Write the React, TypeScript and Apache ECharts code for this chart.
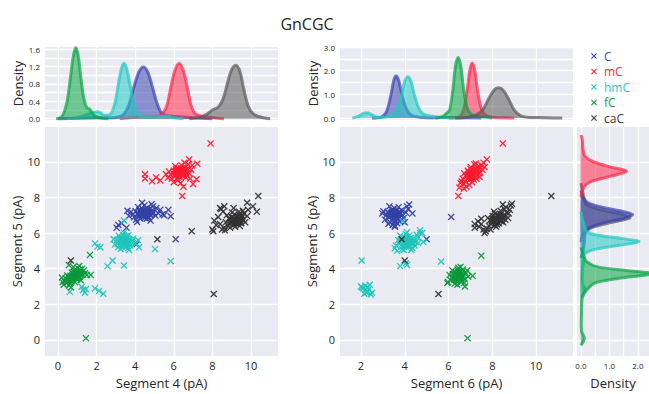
import React, { useEffect, useRef } from 'react';
import * as echarts from 'echarts';

const TITLE = 'GnCGC';
const CLASSES = ['C', 'mC', 'hmC', 'fC', 'caC'];
const COLORS = ['#3341a6', '#ff1a30', '#1cc6bc', '#0b983a', '#333333'];
const LEGEND_COLORS = ['#3f4fb5', '#ff2a3a', '#22c8c0', '#1a9a40', '#3a3a3a'];
const DENS_COLORS = ['#3a44b0', '#ff2848', '#22c9c2', '#0aa544', '#5a5a5a'];

// Left scatter: [Segment 4, Segment 5]
const L_C = [[4.52,7.12],[4.38,7.05],[4.61,7.2],[4.45,6.98],[4.7,7.08],[4.29,7.15],[4.55,7.31],[4.83,7.02],[4.12,7.1],[4.66,6.92],[4.41,7.26],[4.95,7.15],[4.2,6.95],[4.5,6.85],[4.75,7.35],[4.35,7.4],[4.02,7.22],[3.9,7.05],[5.05,6.98],[4.88,7.28],[4.6,6.8],[4.25,6.82],[3.78,7.18],[4.15,7.45],[4.92,7.5],[5.2,7.1],[4.48,7.55],[3.68,6.95],[4.05,6.75],[4.8,6.7],[5.3,7.3],[4.58,7.0],[4.33,7.0],[4.68,7.14],[4.44,7.1],[4.57,6.95],[4.22,7.28],[3.95,6.88],[5.1,7.4],[4.72,6.88],[4.1,6.62],[3.6,7.25],[4.85,7.62],[5.42,7.05],[4.36,7.7],[4.47,7.08],[4.62,7.05],[4.39,7.18],[4.54,7.22],[4.3,7.08],[4.73,7.2],[4.5,7.0],[4.64,7.28],[4.42,6.92],[4.78,7.0],[4.27,7.22],[4.56,7.15],[4.86,7.12],[4.18,7.02],[4.6,7.4],[5.84,6.94],[5.72,7.3],[5.5,7.0],[3.13,6.45],[3.04,6.3],[3.3,6.55],[6.1,5.65],[4.08,5.38],[3.55,6.3]];
const L_MC = [[6.3,9.4],[6.15,9.32],[6.45,9.5],[6.22,9.55],[6.52,9.28],[6.05,9.2],[6.38,9.62],[6.6,9.45],[5.95,9.38],[6.28,9.15],[6.7,9.6],[6.12,9.6],[6.48,9.22],[6.35,9.3],[6.58,9.72],[6.0,9.5],[6.25,9.45],[6.42,9.38],[6.18,9.1],[6.8,9.35],[5.85,9.25],[6.62,9.12],[6.4,9.8],[6.08,9.75],[5.75,9.45],[6.9,9.55],[6.55,9.95],[5.7,9.1],[6.2,8.95],[6.75,9.85],[6.32,9.52],[6.47,9.42],[6.1,9.42],[6.65,9.3],[5.9,9.05],[6.85,9.05],[6.0,8.85],[5.6,9.3],[6.95,9.8],[6.36,8.8],[6.33,9.45],[6.2,9.38],[6.4,9.55],[6.27,9.28],[6.5,9.4],[6.15,9.5],[6.36,9.35],[6.45,9.62],[6.05,9.3],[6.57,9.52],[6.24,9.6],[6.3,9.22],[6.62,9.4],[6.12,9.25],[6.43,9.45],[7.91,11.03],[6.44,8.08],[7.18,9.02],[7.22,9.89],[6.8,10.13],[4.51,9.3],[4.51,9.06],[5.08,9.12],[4.88,8.91],[5.3,8.95],[6.5,8.6],[7.0,8.75]];
const L_HMC = [[3.4,5.5],[3.28,5.42],[3.52,5.6],[3.35,5.7],[3.6,5.38],[3.18,5.55],[3.45,5.3],[3.7,5.62],[3.3,5.25],[3.55,5.82],[3.1,5.4],[3.62,5.15],[3.22,5.72],[3.48,5.45],[3.38,5.9],[3.8,5.48],[3.05,5.6],[3.58,5.52],[3.25,5.1],[3.75,5.3],[3.42,6.02],[2.95,5.35],[3.9,5.7],[3.15,5.85],[3.68,5.05],[3.32,5.58],[3.5,5.2],[3.85,5.55],[2.88,5.65],[4.02,5.42],[3.12,5.2],[3.44,5.66],[3.65,5.88],[3.2,5.32],[3.56,5.42],[4.15,5.6],[3.45,5.55],[3.33,5.48],[3.5,5.4],[3.38,5.62],[3.6,5.6],[3.26,5.5],[3.42,5.38],[3.54,5.7],[3.36,5.32],[3.66,5.48],[3.48,5.75],[3.22,5.62],[3.58,5.28],[3.3,5.68],[3.72,5.4],[3.42,6.7],[1.92,5.41],[2.2,5.2],[2.05,5.25],[5.03,5.1],[5.84,4.42],[2.83,4.46],[2.57,4.14],[3.42,4.18],[1.23,2.98],[1.3,2.8],[1.4,2.65],[1.92,2.89],[2.13,2.75],[2.35,2.6],[0.62,2.7],[1.45,2.85],[4.2,5.2]];
const L_FC = [[0.9,3.6],[0.75,3.5],[1.05,3.7],[0.82,3.72],[1.12,3.55],[0.6,3.4],[0.95,3.85],[1.2,3.8],[0.7,3.3],[1.0,3.45],[0.5,3.35],[0.85,3.9],[1.3,3.68],[0.65,3.6],[1.15,3.95],[0.45,3.2],[0.98,3.62],[0.78,3.42],[1.08,3.52],[0.55,3.55],[1.25,4.0],[0.35,3.3],[0.88,3.25],[1.4,3.75],[0.62,3.15],[1.02,4.05],[0.4,3.45],[1.5,3.65],[0.72,3.78],[0.3,3.1],[1.18,3.35],[0.92,3.48],[0.58,3.05],[1.35,3.9],[0.8,4.1],[0.48,3.62],[1.7,3.65],[0.25,3.25],[1.1,4.15],[0.68,2.95],[0.88,3.65],[0.8,3.55],[0.95,3.7],[0.7,3.48],[1.0,3.58],[0.85,3.5],[0.92,3.78],[0.76,3.62],[1.06,3.8],[0.66,3.38],[1.15,3.65],[0.6,3.5],[0.98,3.4],[0.84,3.8],[1.2,3.72],[1.45,0.1],[1.66,4.77],[0.57,4.2],[0.2,3.5]];
const L_CAC = [[9.2,6.7],[9.05,6.6],[9.35,6.8],[9.12,6.85],[9.45,6.65],[8.9,6.5],[9.25,6.95],[9.55,6.9],[8.95,6.75],[9.3,6.55],[8.8,6.4],[9.15,7.05],[9.6,6.75],[9.0,6.9],[9.4,7.0],[8.7,6.6],[9.28,6.62],[9.08,6.45],[9.5,6.55],[8.85,6.82],[9.65,7.1],[8.6,6.3],[9.18,6.35],[9.7,6.6],[8.75,7.0],[9.38,7.2],[8.5,6.2],[9.8,6.95],[9.02,7.15],[8.65,6.15],[9.58,7.25],[8.4,6.5],[9.22,6.52],[8.92,6.3],[9.85,7.3],[8.3,6.9],[9.1,7.4],[8.55,7.2],[8.45,7.35],[9.42,6.4],[8.2,6.45],[8.62,7.5],[8.1,6.7],[9.22,6.75],[9.1,6.65],[9.3,6.7],[9.15,6.8],[9.4,6.85],[9.0,6.6],[9.33,6.9],[9.05,6.72],[9.48,6.78],[9.18,6.58],[8.95,6.62],[9.26,6.85],[9.52,7.0],[9.12,6.52],[9.38,6.6],[10.38,8.08],[9.8,7.7],[10.1,7.5],[10.3,7.2],[6.93,6.1],[5.15,5.65],[0.67,4.46],[8.07,2.58],[8.0,6.2],[8.4,7.4],[8.05,6.1]];

// Right scatter: [Segment 6, Segment 5]
const R_C = [[3.55,7.0],[3.42,6.95],[3.68,7.08],[3.5,7.15],[3.75,6.9],[3.35,7.05],[3.62,7.25],[3.48,6.82],[3.8,7.12],[3.28,6.88],[3.58,6.7],[3.4,7.3],[3.7,6.78],[3.22,7.18],[3.9,7.02],[3.52,7.4],[3.32,6.62],[3.65,6.55],[3.15,7.0],[3.85,7.28],[3.45,6.45],[3.95,6.85],[3.1,6.75],[3.6,6.98],[3.38,7.1],[3.72,7.45],[3.25,6.5],[4.05,7.15],[3.02,7.22],[3.5,6.6],[3.78,6.65],[3.3,7.5],[3.55,6.42],[4.15,7.35],[3.45,7.2],[3.62,6.9],[2.98,7.1],[4.0,6.6],[3.52,7.05],[3.6,7.1],[3.45,7.0],[3.58,6.92],[3.4,7.15],[3.66,7.0],[3.5,6.88],[3.72,7.2],[3.35,6.95],[3.55,7.22],[3.64,6.82],[3.3,7.08],[3.78,7.05],[3.48,7.28],[3.42,6.75],[4.1,7.5],[4.2,7.6],[4.35,7.1],[6.12,6.9],[5.0,5.65],[3.55,6.35]];
const R_MC = [[7.1,9.3],[6.95,9.15],[7.25,9.45],[7.05,9.4],[7.3,9.25],[6.85,9.05],[7.15,9.55],[7.4,9.6],[6.9,9.3],[7.2,9.15],[6.75,8.9],[7.0,9.6],[7.45,9.4],[6.98,9.0],[7.35,9.75],[6.8,9.2],[7.12,9.2],[7.22,9.65],[6.7,8.75],[7.5,9.8],[7.08,8.85],[6.88,9.5],[7.28,9.05],[6.65,9.05],[7.55,9.55],[6.95,8.7],[7.18,9.85],[6.6,8.9],[7.38,9.35],[7.02,9.7],[6.82,8.6],[7.6,9.95],[7.15,9.0],[6.92,9.4],[7.25,9.9],[6.55,8.8],[7.42,9.15],[6.72,9.35],[7.12,9.35],[7.05,9.25],[7.2,9.4],[7.0,9.2],[7.15,9.45],[6.98,9.35],[7.25,9.3],[7.08,9.5],[6.92,9.1],[7.3,9.5],[7.02,9.05],[7.22,9.6],[6.88,9.25],[7.35,9.55],[7.1,9.15],[8.48,11.03],[6.45,8.08],[7.75,10.13],[6.5,8.55],[6.7,8.5],[7.65,9.7]];
const R_HMC = [[4.1,5.5],[3.95,5.42],[4.25,5.6],[4.05,5.7],[4.3,5.38],[3.85,5.55],[4.15,5.3],[4.4,5.62],[3.9,5.25],[4.2,5.85],[3.75,5.4],[4.35,5.15],[3.98,5.75],[4.12,5.45],[4.05,5.95],[4.5,5.5],[3.7,5.6],[4.22,5.52],[3.88,5.1],[4.45,5.3],[4.1,6.05],[3.6,5.3],[4.6,5.75],[3.8,5.85],[4.3,5.05],[4.0,5.58],[4.18,5.2],[4.55,5.9],[3.55,5.15],[4.7,6.0],[3.95,5.05],[4.28,5.72],[3.65,5.0],[4.62,5.45],[4.08,5.35],[4.12,5.55],[4.02,5.48],[4.2,5.45],[4.08,5.62],[4.28,5.55],[3.95,5.5],[4.15,5.4],[4.25,5.7],[4.0,5.35],[4.35,5.5],[4.1,5.72],[3.9,5.6],[4.22,5.3],[4.05,5.25],[4.4,5.45],[4.8,6.0],[4.7,6.15],[3.9,6.65],[4.85,5.5],[2.03,4.46],[5.66,4.4],[3.79,4.14],[4.1,4.2],[4.05,4.3],[2.2,2.8],[2.3,2.7],[2.1,2.9],[2.35,2.85],[2.25,2.65],[2.4,3.1],[2.05,2.95],[2.15,2.6],[2.5,2.65],[2.3,2.95],[2.0,3.0],[2.45,2.55],[2.2,3.05],[2.28,2.75]];
const R_FC = [[6.45,3.55],[6.35,3.48],[6.55,3.62],[6.4,3.7],[6.6,3.45],[6.3,3.6],[6.5,3.4],[6.62,3.78],[6.25,3.38],[6.48,3.85],[6.38,3.3],[6.7,3.6],[6.2,3.7],[6.52,3.5],[6.42,3.95],[6.75,3.4],[6.15,3.5],[6.58,3.25],[6.33,3.8],[6.8,3.75],[6.45,4.05],[6.1,3.35],[6.65,3.95],[6.28,3.15],[6.9,3.55],[6.05,3.65],[6.55,4.1],[6.4,3.1],[6.72,3.2],[5.98,3.25],[6.85,3.9],[6.18,3.9],[6.45,3.6],[6.4,3.5],[6.5,3.65],[6.38,3.62],[6.55,3.52],[6.42,3.45],[6.48,3.75],[6.35,3.4],[6.58,3.7],[6.3,3.52],[6.52,3.42],[6.44,3.82],[6.62,3.58],[6.28,3.68],[6.5,3.35],[6.87,0.1],[7.5,4.73],[5.95,3.2],[6.75,3.0],[7.1,3.6]];
const R_CAC = [[8.2,6.75],[8.05,6.62],[8.35,6.88],[8.15,6.9],[8.45,6.7],[7.95,6.5],[8.28,7.0],[8.55,6.95],[8.0,6.8],[8.3,6.55],[7.85,6.4],[8.12,7.08],[8.6,6.75],[8.02,6.95],[8.4,7.05],[7.75,6.25],[8.25,6.6],[8.1,6.45],[8.5,6.6],[7.9,6.72],[8.65,7.15],[7.7,6.1],[8.18,6.35],[8.72,6.85],[7.8,6.85],[8.38,7.25],[7.6,6.2],[8.8,7.3],[8.08,7.2],[7.65,6.0],[8.62,7.45],[7.5,6.5],[8.22,6.48],[7.92,6.2],[8.85,7.55],[8.48,7.6],[8.75,7.1],[7.4,6.35],[8.9,7.65],[8.55,7.35],[8.22,6.8],[8.1,6.7],[8.3,6.75],[8.18,6.85],[8.4,6.9],[8.0,6.6],[8.35,6.95],[8.08,6.78],[8.48,6.82],[8.2,6.62],[7.98,6.68],[8.28,6.92],[8.52,7.0],[8.12,6.55],[8.42,6.65],[10.7,8.08],[3.86,5.65],[4.0,4.46],[5.54,2.58],[7.2,6.5],[7.5,6.8],[7.35,6.65],[7.2,6.3]];

// Top-left densities: [Segment 4, density]
const D4_C = [[0,0],[1,0.01],[2,0.02],[3,0.03],[3.4,0.1],[3.7,0.35],[3.95,0.75],[4.2,1.08],[4.42,1.19],[4.65,1.08],[4.9,0.72],[5.15,0.33],[5.4,0.12],[5.8,0.06],[6.2,0.05],[7,0.02],[8,0]];
const D4_MC = [[3.2,0],[3.8,0.03],[4.3,0.05],[4.8,0.04],[5.3,0.08],[5.6,0.25],[5.85,0.72],[6.05,1.1],[6.28,1.27],[6.5,1.1],[6.7,0.72],[6.9,0.3],[7.1,0.12],[7.4,0.06],[7.8,0.04],[8.3,0.01],[8.6,0]];
const D4_HMC = [[0.5,0],[1.0,0.03],[1.4,0.08],[1.8,0.15],[2.1,0.16],[2.4,0.08],[2.7,0.1],[2.95,0.35],[3.15,0.85],[3.3,1.17],[3.42,1.27],[3.55,1.17],[3.7,0.85],[3.9,0.4],[4.1,0.15],[4.4,0.05],[5.0,0.04],[5.6,0.06],[6.0,0.02],[6.5,0]];
const D4_FC = [[-0.1,0],[0.2,0.05],[0.45,0.35],[0.65,0.95],[0.8,1.45],[0.93,1.63],[1.05,1.45],[1.2,0.9],[1.35,0.45],[1.5,0.25],[1.65,0.22],[1.8,0.12],[2.0,0.04],[2.3,0.01],[2.6,0]];
const D4_CAC = [[6.8,0],[7.3,0.03],[7.7,0.1],[8.0,0.2],[8.3,0.27],[8.55,0.45],[8.8,0.85],[9.0,1.13],[9.22,1.23],[9.42,1.1],[9.62,0.7],[9.85,0.3],[10.1,0.12],[10.4,0.05],[10.8,0.01],[11.0,0]];

// Top-right densities: [Segment 6, density]
const D6_C = [[2.5,0],[2.9,0.03],[3.15,0.25],[3.35,0.9],[3.5,1.6],[3.6,1.78],[3.72,1.6],[3.88,0.95],[4.05,0.45],[4.25,0.15],[4.6,0.05],[5.2,0.02],[6.0,0.03],[6.5,0.02],[7.5,0]];
const D6_MC = [[6.0,0],[6.4,0.03],[6.65,0.25],[6.85,1.15],[6.97,2.0],[7.08,2.32],[7.2,2.0],[7.32,1.2],[7.5,0.4],[7.7,0.12],[8.0,0.04],[8.6,0.01],[9,0]];
const D6_HMC = [[1.6,0],[1.9,0.08],[2.1,0.2],[2.27,0.23],[2.45,0.17],[2.7,0.05],[3.0,0.03],[3.3,0.08],[3.6,0.3],[3.85,0.95],[4.0,1.55],[4.14,1.74],[4.28,1.55],[4.45,0.95],[4.65,0.4],[4.85,0.17],[5.1,0.1],[5.5,0.05],[6.0,0.02],[6.5,0]];
const D6_FC = [[5.4,0],[5.7,0.05],[5.9,0.2],[6.05,0.35],[6.2,1.2],[6.32,2.2],[6.44,2.56],[6.56,2.2],[6.7,1.15],[6.85,0.45],[7.0,0.2],[7.2,0.1],[7.6,0.05],[8,0]];
const D6_CAC = [[6.3,0],[6.9,0.04],[7.3,0.15],[7.6,0.4],[7.85,0.85],[8.1,1.2],[8.3,1.28],[8.5,1.18],[8.75,0.8],[9.0,0.35],[9.3,0.1],[9.7,0.03],[10.5,0.02],[11.2,0]];

// Right densities: [Segment 5, density]
const D5_C = [[4.6,0],[5.0,0.08],[5.5,0.12],[6.0,0.15],[6.3,0.3],[6.6,0.85],[6.85,1.55],[7.03,1.82],[7.2,1.5],[7.45,0.75],[7.7,0.25],[8.0,0.08],[8.4,0]];
const D5_MC = [[8.0,0],[8.5,0.08],[8.85,0.3],[9.15,0.95],[9.46,1.6],[9.7,1.05],[10.0,0.43],[10.3,0.15],[10.7,0.07],[11.2,0.05],[11.5,0]];
const D5_HMC = [[2.4,0],[2.8,0.15],[3.2,0.05],[4.0,0.06],[4.4,0.1],[4.8,0.12],[5.05,0.4],[5.3,1.3],[5.52,2.04],[5.7,1.4],[5.9,0.5],[6.1,0.2],[6.4,0.12],[6.8,0.05],[7.2,0]];
const D5_FC = [[-0.3,0],[0.1,0.12],[0.5,0.02],[1.5,0.02],[2.4,0.05],[2.8,0.2],[3.2,0.5],[3.45,1.3],[3.72,2.5],[3.9,1.6],[4.1,0.6],[4.4,0.2],[4.8,0.08],[5.2,0]];
const D5_CAC = [[5.5,0],[6.0,0.1],[6.35,0.45],[6.6,1.1],[6.85,1.72],[7.05,1.45],[7.3,0.7],[7.6,0.2],[8.0,0.1],[8.4,0.05],[8.8,0]];

const LEFT = [L_C, L_MC, L_HMC, L_FC, L_CAC];
const RIGHT = [R_C, R_MC, R_HMC, R_FC, R_CAC];
const DENS4 = [D4_C, D4_MC, D4_HMC, D4_FC, D4_CAC];
const DENS6 = [D6_C, D6_MC, D6_HMC, D6_FC, D6_CAC];
const DENS5 = [D5_C, D5_MC, D5_HMC, D5_FC, D5_CAC];

const X_PATH = 'path://M0,1.3L1.3,0L5,3.7L8.7,0L10,1.3L6.3,5L10,8.7L8.7,10L5,6.3L1.3,10L0,8.7L3.7,5Z';
const FONT = '"Open Sans", "DejaVu Sans", sans-serif';
const TXT = '#262626';
const BG = '#eaeaf2';

const isMult = (v: number, s: number) => Math.abs(v / s - Math.round(v / s)) < 1e-6;

export default function App() {
  const ref = useRef<HTMLDivElement>(null);
  useEffect(() => {
    if (!ref.current) return;
    const chart = echarts.init(ref.current, null, { renderer: 'svg' });
    const gridBase = { show: true, backgroundColor: BG, borderWidth: 0, containLabel: false };
    const split = { show: true, showMinLine: false, showMaxLine: false, lineStyle: { color: '#ffffff', width: 1.3 } };
    const noLine = { show: false };
    const axisCommon = { axisLine: noLine, axisTick: noLine, splitLine: split };

    const series: any[] = [];
    CLASSES.forEach((n, i) => {
      series.push({
        type: 'line', name: n + ' d4', xAxisIndex: 0, yAxisIndex: 0, data: DENS4[i], smooth: 0.35,
        showSymbol: false, silent: true, z: 2 + i,
        lineStyle: { color: DENS_COLORS[i], width: 3, opacity: 0.7 },
        areaStyle: { color: DENS_COLORS[i], opacity: 0.55 },
      });
      series.push({
        type: 'line', name: n + ' d6', xAxisIndex: 2, yAxisIndex: 2, data: DENS6[i], smooth: 0.35,
        showSymbol: false, silent: true, z: 2 + i,
        lineStyle: { color: DENS_COLORS[i], width: 3, opacity: 0.7 },
        areaStyle: { color: DENS_COLORS[i], opacity: 0.55 },
      });
      const curve = DENS5[i];
      series.push({
        type: 'custom', name: n + ' d5', xAxisIndex: 4, yAxisIndex: 4, data: [[0, 0]], clip: true,
        silent: true, z: i === 4 ? 1 : 2 + i,
        renderItem: (_p: any, api: any) => {
          const pts = curve.map(([y, d]) => api.coord([d, y]));
          return {
            type: 'group',
            children: [
              { type: 'polygon', shape: { points: pts, smooth: 0.3 }, style: { fill: DENS_COLORS[i], opacity: 0.55 } },
              { type: 'polyline', shape: { points: pts, smooth: 0.3 }, style: { stroke: DENS_COLORS[i], lineWidth: 3, opacity: 0.7, fill: 'none' } },
            ],
          };
        },
      });
      series.push({
        type: 'scatter', name: n, xAxisIndex: 1, yAxisIndex: 1, data: LEFT[i], symbol: X_PATH, symbolSize: 7,
        itemStyle: { color: COLORS[i], opacity: 0.95 }, z: 3,
      });
      series.push({
        type: 'scatter', name: n, xAxisIndex: 3, yAxisIndex: 3, data: RIGHT[i], symbol: X_PATH, symbolSize: 7,
        itemStyle: { color: COLORS[i], opacity: 0.95 }, z: 3,
      });
    });

    const tickFont = { color: TXT, fontFamily: FONT };
    const nameStyle = { color: TXT, fontFamily: FONT, fontSize: 13 };

    chart.setOption({
      animation: false,
      title: {
        text: TITLE, left: 302, top: 11, textAlign: 'center',
        textStyle: { color: TXT, fontFamily: FONT, fontSize: 16, fontWeight: 'normal' },
      },
      legend: {
        orient: 'vertical', left: 586, top: 45, itemGap: 3.5, itemWidth: 10, itemHeight: 6,
        icon: X_PATH, selectedMode: false,
        textStyle: { fontFamily: FONT, fontSize: 12, lineHeight: 12 },
        data: CLASSES.map((n, i) => ({ name: n, textStyle: { color: LEGEND_COLORS[i] } })),
      },
      grid: [
        { ...gridBase, left: 45, top: 47, width: 233, height: 73 },
        { ...gridBase, left: 45, top: 127, width: 233, height: 233 },
        { ...gridBase, left: 340, top: 47, width: 233, height: 73 },
        { ...gridBase, left: 340, top: 127, width: 233, height: 233 },
        { ...gridBase, left: 577, top: 127, width: 72, height: 233 },
      ],
      xAxis: [
        { type: 'value', gridIndex: 0, min: -0.67, max: 11.4, minInterval: 2, maxInterval: 2, ...axisCommon, axisLabel: { show: false } },
        { type: 'value', gridIndex: 1, min: -0.67, max: 11.4, minInterval: 2, maxInterval: 2, ...axisCommon,
          axisLabel: { ...tickFont, fontSize: 11, margin: 4, showMinLabel: false, showMaxLabel: false, formatter: (v: number) => (isMult(v, 2) ? String(v) : '') },
          name: 'Segment 4 (pA)', nameLocation: 'middle', nameGap: 20, nameTextStyle: nameStyle },
        { type: 'value', gridIndex: 2, min: 1.04, max: 11.69, minInterval: 2, maxInterval: 2, ...axisCommon, axisLabel: { show: false } },
        { type: 'value', gridIndex: 3, min: 1.04, max: 11.69, minInterval: 2, maxInterval: 2, ...axisCommon,
          axisLabel: { ...tickFont, fontSize: 11, margin: 4, showMinLabel: false, showMaxLabel: false, formatter: (v: number) => (isMult(v, 2) ? String(v) : '') },
          name: 'Segment 6 (pA)', nameLocation: 'middle', nameGap: 20, nameTextStyle: nameStyle },
        { type: 'value', gridIndex: 4, min: -0.14, max: 2.39, minInterval: 0.5, maxInterval: 0.5, ...axisCommon,
          axisLabel: { ...tickFont, fontSize: 8, margin: 5, showMinLabel: false, showMaxLabel: false, formatter: (v: number) => (isMult(v, 1) ? v.toFixed(1) : '') },
          name: 'Density', nameLocation: 'middle', nameGap: 20, nameTextStyle: nameStyle },
      ],
      yAxis: [
        { type: 'value', gridIndex: 0, min: -0.03, max: 1.65, minInterval: 0.2, maxInterval: 0.2, ...axisCommon,
          axisLabel: { ...tickFont, fontSize: 8, margin: 5, showMinLabel: false, showMaxLabel: false, formatter: (v: number) => (isMult(v, 0.4) ? v.toFixed(1) : '') },
          name: 'Density', nameLocation: 'middle', nameGap: 20, nameTextStyle: nameStyle },
        { type: 'value', gridIndex: 1, min: -0.9, max: 11.95, minInterval: 2, maxInterval: 2, ...axisCommon,
          axisLabel: { ...tickFont, fontSize: 11, margin: 5, showMinLabel: false, showMaxLabel: false, formatter: (v: number) => (isMult(v, 2) ? String(v) : '') },
          name: 'Segment 5 (pA)', nameLocation: 'middle', nameGap: 20, nameTextStyle: nameStyle },
        { type: 'value', gridIndex: 2, min: -0.08, max: 3.0, minInterval: 0.5, maxInterval: 0.5, ...axisCommon,
          splitLine: { ...split, showMaxLine: true },
          axisLabel: { ...tickFont, fontSize: 8, margin: 5, showMinLabel: false, formatter: (v: number) => (isMult(v, 1) ? v.toFixed(1) : '') },
          name: 'Density', nameLocation: 'middle', nameGap: 21, nameTextStyle: nameStyle },
        { type: 'value', gridIndex: 3, min: -0.9, max: 11.95, minInterval: 2, maxInterval: 2, ...axisCommon,
          axisLabel: { ...tickFont, fontSize: 11, margin: 5, showMinLabel: false, showMaxLabel: false, formatter: (v: number) => (isMult(v, 2) ? String(v) : '') },
          name: 'Segment 5 (pA)', nameLocation: 'middle', nameGap: 20, nameTextStyle: nameStyle },
        { type: 'value', gridIndex: 4, min: -0.9, max: 11.95, minInterval: 2, maxInterval: 2, ...axisCommon, axisLabel: { show: false } },
      ],
      series,
    });
    return () => chart.dispose();
  }, []);
  return <div ref={ref} style={{ width: 649, height: 394, position: 'absolute', left: 0, top: 0 }} />;
}
